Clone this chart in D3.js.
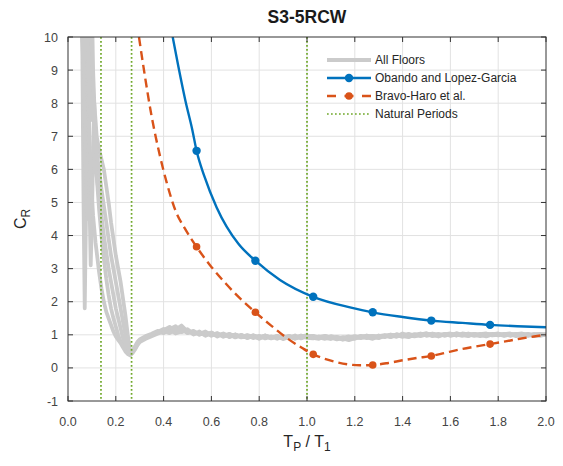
<!DOCTYPE html>
<html>
<head>
<meta charset="utf-8">
<script src="https://cdn.jsdelivr.net/npm/d3@7"></script>
<style>
  html, body { margin: 0; padding: 0; background: #fff; }
  svg { display: block; font-family: "Liberation Sans", Arial, Helvetica, sans-serif; }
</style>
</head>
<body>
<svg id="chart" width="563" height="466"></svg>
<script>
// ---- data -------------------------------------------------------------
const xTicks = [0.0, 0.2, 0.4, 0.6, 0.8, 1.0, 1.2, 1.4, 1.6, 1.8, 2.0];
const yTicks = [-1, 0, 1, 2, 3, 4, 5, 6, 7, 8, 9, 10];

// period ratios where the floor responses are sampled
const floorT = [0.05, 0.055, 0.06, 0.065, 0.07, 0.075, 0.08, 0.085, 0.09, 0.095,
  0.10, 0.105, 0.11, 0.115, 0.12, 0.13, 0.14, 0.15, 0.16, 0.17,
  0.18, 0.19, 0.20, 0.21, 0.22, 0.23, 0.24, 0.25, 0.26, 0.27, 0.28, 0.29,
  0.300, 0.325, 0.350, 0.375, 0.400, 0.425, 0.450, 0.475, 0.500, 0.525,
  0.550, 0.575, 0.600, 0.625, 0.650, 0.675, 0.700, 0.725, 0.750, 0.775,
  0.800, 0.825, 0.850, 0.875, 0.900, 0.925, 0.950, 0.975, 1.000, 1.025,
  1.050, 1.075, 1.100, 1.125, 1.150, 1.175, 1.200, 1.225, 1.250, 1.275,
  1.300, 1.325, 1.350, 1.375, 1.400, 1.425, 1.450, 1.475, 1.500, 1.525,
  1.550, 1.575, 1.600, 1.625, 1.650, 1.675, 1.700, 1.725, 1.750, 1.775,
  1.800, 1.825, 1.850, 1.875, 1.900, 1.925, 1.950, 1.975, 2.000];

const floor1 = [12, 11, 9.5, 5, 1.8, 4.5, 8, 10.5, 11, 9,
  7.5, 8.5, 7, 6.5, 5.8, 4.8, 4.0, 3.3, 2.7, 2.2,
  1.8, 1.5, 1.25, 1.0, 0.8, 0.65, 0.55, 0.48, 0.45, 0.5, 0.6, 0.72,
  0.82, 0.92, 1.00, 1.08, 1.14, 1.24, 1.10, 1.18, 1.05, 1.12,
  1.00, 1.08, 0.97, 1.04, 0.94, 1.01, 0.92, 0.99, 0.90, 0.97,
  0.88, 0.96, 0.89, 0.97, 0.90, 0.96, 0.88, 0.94, 0.99, 0.91,
  0.88, 0.96, 0.92, 0.86, 0.91, 0.95, 0.90, 0.97, 0.92, 0.88,
  0.96, 0.99, 0.94, 1.02, 0.96, 0.93, 1.00, 1.04, 0.97, 1.01,
  0.95, 1.02, 0.98, 1.05, 0.99, 0.96, 1.03, 1.00, 0.95, 1.01,
  1.04, 0.98, 1.02, 0.96, 1.00, 1.03, 0.97, 1.00, 1.01];

const floor2 = [11, 10.5, 11, 10, 8, 6, 4.5, 6.5, 9, 10.5,
  11, 9, 8, 7.5, 7.0, 6.6, 6.3, 6.0, 5.5, 5.0,
  4.4, 3.9, 3.4, 3.0, 2.6, 2.1, 1.6, 1.0, 0.5, 0.52, 0.65, 0.78,
  0.86, 0.96, 1.03, 1.12, 1.05, 1.17, 1.26, 1.08, 1.14, 1.01,
  1.10, 0.97, 1.05, 0.95, 1.03, 0.93, 1.00, 0.92, 0.98, 0.90,
  0.97, 0.89, 0.95, 0.88, 0.96, 0.91, 0.98, 0.89, 0.95, 0.97,
  0.92, 0.88, 0.96, 0.91, 0.85, 0.90, 0.96, 0.91, 0.98, 0.93,
  0.90, 0.97, 1.01, 0.96, 1.04, 0.98, 0.95, 1.01, 1.05, 0.98,
  1.03, 0.97, 1.02, 0.98, 1.04, 1.01, 0.97, 1.02, 1.04, 0.98,
  1.00, 1.03, 0.97, 1.02, 1.04, 1.00, 0.97, 1.02, 1.00];

const floor3 = [13, 12, 10.5, 11, 10, 10.5, 9, 7.5, 5, 3.1,
  4.5, 6.5, 8, 6.5, 5.8, 5.2, 4.6, 4.0, 3.5, 3.0,
  2.6, 2.2, 1.8, 1.5, 1.2, 0.9, 0.65, 0.45, 0.4, 0.48, 0.58, 0.7,
  0.80, 0.90, 0.98, 1.06, 1.12, 1.05, 1.16, 1.28, 1.10, 1.05,
  1.03, 1.10, 0.99, 1.05, 0.96, 1.03, 0.94, 1.00, 0.92, 0.98,
  0.91, 0.97, 0.90, 0.95, 0.87, 0.94, 0.90, 0.96, 0.91, 0.89,
  0.95, 0.90, 0.88, 0.94, 0.89, 0.84, 0.90, 0.94, 0.90, 0.96,
  0.92, 0.98, 0.93, 0.99, 0.94, 1.01, 0.96, 1.00, 1.03, 0.96,
  0.99, 1.03, 0.97, 1.01, 0.97, 1.04, 1.00, 0.96, 1.01, 1.03,
  0.98, 1.02, 1.04, 0.98, 1.02, 0.97, 1.02, 1.03, 1.00];

const floor4 = [10.5, 12, 11, 9.5, 10.5, 11, 10, 8.5, 7, 6,
  5.2, 4.6, 4.2, 3.8, 3.5, 2.9, 2.4, 2.0, 1.7, 1.5,
  1.3, 1.1, 0.95, 0.85, 0.75, 0.62, 0.5, 0.42, 0.38, 0.45, 0.55, 0.68,
  0.78, 0.88, 0.96, 1.03, 1.10, 1.16, 1.04, 1.10, 1.17, 1.03,
  1.07, 1.00, 1.06, 0.98, 1.02, 0.95, 1.01, 0.94, 0.92, 0.99,
  0.92, 0.98, 0.91, 0.96, 0.89, 0.95, 0.91, 0.98, 0.92, 0.96,
  0.90, 0.95, 0.88, 0.93, 0.87, 0.92, 0.88, 0.95, 0.96, 0.91,
  0.98, 0.93, 0.99, 0.94, 1.00, 0.96, 1.02, 0.96, 1.01, 1.03,
  0.97, 1.01, 1.04, 0.98, 1.02, 0.98, 1.03, 0.98, 1.03, 1.00,
  1.02, 0.97, 1.01, 1.03, 0.98, 1.02, 1.00, 0.97, 1.01];

const floor5 = [12, 11.5, 10.5, 9, 10, 11, 10.5, 9.5, 8.5, 7.5,
  7.8, 8.2, 7.4, 7.0, 6.5, 6.0, 5.4, 4.9, 4.4, 3.9,
  3.4, 3.0, 2.6, 2.2, 1.8, 1.4, 1.0, 0.65, 0.45, 0.5, 0.62, 0.74,
  0.84, 0.94, 1.01, 1.09, 1.18, 1.08, 1.13, 1.22, 1.07, 1.09,
  1.04, 1.00, 1.07, 0.97, 1.04, 0.96, 1.01, 0.93, 0.99, 0.94,
  0.90, 0.98, 0.92, 0.94, 0.91, 0.97, 0.89, 0.95, 0.96, 0.90,
  0.93, 0.97, 0.90, 0.89, 0.93, 0.88, 0.93, 0.90, 0.95, 0.97,
  0.94, 0.96, 0.99, 1.00, 0.98, 1.03, 0.98, 1.02, 1.00, 1.04,
  1.00, 0.99, 1.03, 1.01, 1.00, 1.03, 0.99, 1.03, 0.99, 1.01,
  1.03, 1.00, 0.99, 1.02, 1.01, 0.98, 1.02, 1.00, 1.02];

const floors = [floor1, floor2, floor3, floor4, floor5];

// Obando and Lopez-Garcia
const obandoT = [0.438, 0.462, 0.492, 0.520, 0.538, 0.570, 0.622, 0.713, 0.784,
  0.887, 1.026, 1.180, 1.275, 1.400, 1.520, 1.650, 1.766, 1.880, 2.000];
const obandoCR = [10.0, 9.1, 8.05, 7.2, 6.56, 5.8, 4.85, 3.75, 3.24,
  2.66, 2.15, 1.83, 1.68, 1.54, 1.43, 1.36, 1.30, 1.26, 1.23];

// Bravo-Haro et al.
const bravoT = [0.297, 0.320, 0.350, 0.385, 0.413, 0.450, 0.490, 0.538, 0.600,
  0.660, 0.720, 0.784, 0.850, 0.920, 0.980, 1.026, 1.100, 1.170, 1.220,
  1.275, 1.340, 1.400, 1.460, 1.520, 1.580, 1.640, 1.700, 1.766, 1.830,
  1.890, 1.950, 2.000];
const bravoCR = [10.0, 8.9, 7.6, 6.4, 5.6, 4.75, 4.2, 3.66, 3.05,
  2.55, 2.1, 1.68, 1.28, 0.88, 0.6, 0.41, 0.22, 0.11, 0.08,
  0.09, 0.15, 0.23, 0.3, 0.36, 0.46, 0.56, 0.64, 0.72, 0.8,
  0.88, 0.95, 1.0];

// marker positions shared by both models
const markerT = [0.538, 0.784, 1.026, 1.275, 1.520, 1.766];
const obandoMarkers = [6.56, 3.24, 2.15, 1.68, 1.43, 1.30];
const bravoMarkers = [3.66, 1.68, 0.41, 0.09, 0.36, 0.72];

// natural period ratios
const naturalPeriods = [0.138, 0.266, 1.0];

const legendLabels = ["All Floors", "Obando and Lopez-Garcia", "Bravo-Haro et al.", "Natural Periods"];

// ---- layout -----------------------------------------------------------
const pLeft = 68, pRight = 546, pTop = 37, pBottom = 401;
const axisColor = "#333333";
const gridColor = "#e2e2e2";
const grayColor = "#cbcbcb";
const blue = "#0072BD";
const orange = "#D95319";
const green = "#6fa82a";

const svg = d3.select("#chart");
const x = d3.scaleLinear().domain([0, 2]).range([pLeft, pRight]);
const y = d3.scaleLinear().domain([-1, 10]).range([pBottom, pTop]);

// grid
const grid = svg.append("g");
grid.selectAll(".gx").data(xTicks.slice(1, -1)).join("line")
  .attr("x1", d => x(d)).attr("x2", d => x(d))
  .attr("y1", pTop).attr("y2", pBottom)
  .attr("stroke", gridColor).attr("stroke-width", 1);
grid.selectAll(".gy").data(yTicks.slice(1, -1)).join("line")
  .attr("y1", d => y(d)).attr("y2", d => y(d))
  .attr("x1", pLeft).attr("x2", pRight)
  .attr("stroke", gridColor).attr("stroke-width", 1);

// clipped plotting area
svg.append("clipPath").attr("id", "plotClip")
  .append("rect").attr("x", pLeft).attr("y", pTop)
  .attr("width", pRight - pLeft).attr("height", pBottom - pTop);
const plot = svg.append("g").attr("clip-path", "url(#plotClip)");

const floorLine = d3.line().x((d, i) => x(floorT[i])).y(d => y(d));
plot.selectAll(".floor").data(floors).join("path")
  .attr("d", floorLine)
  .attr("fill", "none").attr("stroke", grayColor)
  .attr("stroke-width", 3.8).attr("stroke-linejoin", "round");

// natural periods
plot.selectAll(".np").data(naturalPeriods).join("line")
  .attr("x1", d => x(d)).attr("x2", d => x(d))
  .attr("y1", pTop).attr("y2", pBottom)
  .attr("stroke", green).attr("stroke-width", 1.7)
  .attr("stroke-dasharray", "1.7,2.3");

// Bravo-Haro curve
const bravoLine = d3.line().curve(d3.curveMonotoneX)
  .x((d, i) => x(bravoT[i])).y(d => y(d));
plot.append("path").datum(bravoCR).attr("d", bravoLine)
  .attr("fill", "none").attr("stroke", orange)
  .attr("stroke-width", 2.4).attr("stroke-dasharray", "9,5");
plot.selectAll(".bm").data(bravoMarkers).join("circle")
  .attr("cx", (d, i) => x(markerT[i])).attr("cy", d => y(d))
  .attr("r", 3.8).attr("fill", orange);

// Obando curve
const obandoLine = d3.line().curve(d3.curveMonotoneX)
  .x((d, i) => x(obandoT[i])).y(d => y(d));
plot.append("path").datum(obandoCR).attr("d", obandoLine)
  .attr("fill", "none").attr("stroke", blue).attr("stroke-width", 2.4);
plot.selectAll(".om").data(obandoMarkers).join("circle")
  .attr("cx", (d, i) => x(markerT[i])).attr("cy", d => y(d))
  .attr("r", 4.2).attr("fill", blue);

// axes box with inward ticks on all sides
const tickLen = 5;
const axes = svg.append("g").attr("stroke", axisColor).attr("stroke-width", 1);
axes.append("rect").attr("x", pLeft).attr("y", pTop)
  .attr("width", pRight - pLeft).attr("height", pBottom - pTop)
  .attr("fill", "none");
xTicks.forEach(t => {
  axes.append("line").attr("x1", x(t)).attr("x2", x(t)).attr("y1", pBottom).attr("y2", pBottom - tickLen);
  axes.append("line").attr("x1", x(t)).attr("x2", x(t)).attr("y1", pTop).attr("y2", pTop + tickLen);
});
yTicks.forEach(t => {
  axes.append("line").attr("y1", y(t)).attr("y2", y(t)).attr("x1", pLeft).attr("x2", pLeft + tickLen);
  axes.append("line").attr("y1", y(t)).attr("y2", y(t)).attr("x1", pRight).attr("x2", pRight - tickLen);
});

// tick labels
svg.append("g").selectAll("text").data(xTicks).join("text")
  .attr("x", d => x(d)).attr("y", 426)
  .attr("text-anchor", "middle").attr("font-size", 12.5).attr("fill", "#444")
  .text(d => d3.format(".1f")(d));
svg.append("g").selectAll("text").data(yTicks).join("text")
  .attr("x", 58).attr("y", d => y(d) + 4.5)
  .attr("text-anchor", "end").attr("font-size", 12.5).attr("fill", "#444")
  .text(d => d);

// title
svg.append("text").attr("x", (pLeft + pRight) / 2).attr("y", 23)
  .attr("text-anchor", "middle").attr("font-size", 17.5).attr("font-weight", "bold")
  .attr("fill", "#1a1a1a").text("S3-5RCW");

// x label: T_P / T_1
const xl = svg.append("text").attr("x", (pLeft + pRight) / 2).attr("y", 447)
  .attr("text-anchor", "middle").attr("font-size", 16).attr("fill", "#262626");
xl.append("tspan").text("T");
xl.append("tspan").attr("font-size", 12).attr("dy", 4).text("P");
xl.append("tspan").attr("dy", -4).text(" / T");
xl.append("tspan").attr("font-size", 12).attr("dy", 4).text("1");

// y label: C_R
const yl = svg.append("text")
  .attr("transform", "translate(26," + ((pTop + pBottom) / 2) + ") rotate(-90)")
  .attr("text-anchor", "middle").attr("font-size", 16).attr("fill", "#262626");
yl.append("tspan").text("C");
yl.append("tspan").attr("font-size", 12).attr("dy", 4).text("R");

// legend
const lg = svg.append("g");
const rowY = [60, 78, 96, 114];
const lx0 = 327, lx1 = 371;
lg.append("line").attr("x1", lx0).attr("x2", lx1).attr("y1", rowY[0]).attr("y2", rowY[0])
  .attr("stroke", grayColor).attr("stroke-width", 3.8);
lg.append("line").attr("x1", lx0).attr("x2", lx1).attr("y1", rowY[1]).attr("y2", rowY[1])
  .attr("stroke", blue).attr("stroke-width", 2.4);
lg.append("circle").attr("cx", (lx0 + lx1) / 2).attr("cy", rowY[1]).attr("r", 4.2).attr("fill", blue);
lg.append("line").attr("x1", lx0).attr("x2", lx1).attr("y1", rowY[2]).attr("y2", rowY[2])
  .attr("stroke", orange).attr("stroke-width", 2.4).attr("stroke-dasharray", "9,8.5");
lg.append("circle").attr("cx", (lx0 + lx1) / 2).attr("cy", rowY[2]).attr("r", 3.8).attr("fill", orange);
lg.append("line").attr("x1", lx0).attr("x2", lx1).attr("y1", rowY[3]).attr("y2", rowY[3])
  .attr("stroke", green).attr("stroke-width", 1.7).attr("stroke-dasharray", "1.7,2.3");
lg.selectAll("text").data(legendLabels).join("text")
  .attr("x", 375).attr("y", (d, i) => rowY[i] + 4.3)
  .attr("font-size", 12).attr("fill", "#262626").text(d => d);
</script>
</body>
</html>
